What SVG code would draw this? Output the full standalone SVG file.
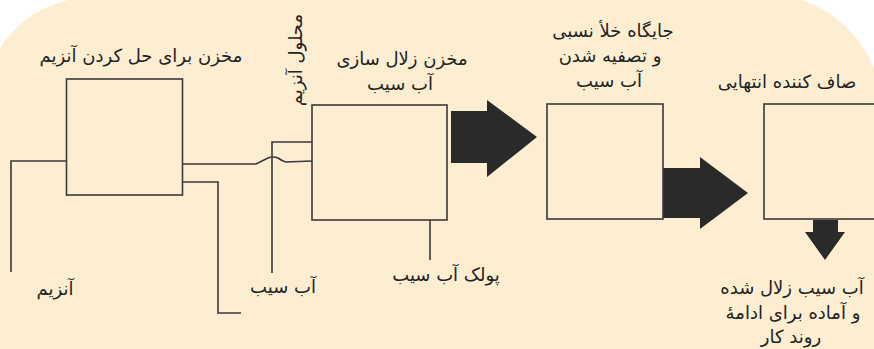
<svg xmlns="http://www.w3.org/2000/svg" width="874" height="349" viewBox="0 0 874 349">
<style>
.box{fill:none;stroke:#3a3a3a;stroke-width:1.6}
.ln{fill:none;stroke:#3a3a3a;stroke-width:1.6}
.arr{fill:#2a2a2a}
text{font-family:"DejaVu Sans","Noto Sans",sans-serif;font-size:18px;fill:#222;text-anchor:middle;direction:rtl}
</style>
<rect width="874" height="349" fill="#ffffff"/>
<path d="M0,48 A110,110 0 0 1 68,0 L802,0 A120,120 0 0 1 874,68 L874,349 L0,349 Z" fill="#fdeed2"/>
<g id="connectors">
<path class="ln" d="M66,161 H11 V272"/>
<path class="ln" d="M182,164 H256 Q264,160 268,158 Q273,156 278,158 Q282,161 286,162 L312,161"/>
<path class="ln" d="M182,182 H218 V313 H241"/>
<path class="ln" d="M312,142 H272 V273"/>
<path class="ln" d="M430,220 V260"/>
<polygon class="arr" id="arrow1" points="451,111 487,111 487,100 537,137 487,177 487,163 451,163"/>
<polygon class="arr" id="arrow2" points="663,168 700,168 700,157 748,193 700,229 700,218 663,218"/>
<polygon class="arr" id="arrow3" points="813,220 838,220 838,232 845,232 825,260 805,232 813,232"/>
</g>
<g id="n1">
<rect class="box" x="66.5" y="79" width="116" height="116"/>
<text x="141" y="62">مخزن برای حل کردن آنزیم</text>
</g>
<g id="n1-label-enzyme"><text x="55" y="295">آنزیم</text></g>
<g id="n-solution"><text transform="translate(302,60) rotate(-90)">محلول آنزیم</text></g>
<g id="n-juice"><text x="283" y="293">آب سیب</text></g>
<g id="n2">
<rect class="box" x="312" y="105" width="135" height="115"/>
<text x="402" y="65">مخزن زلال سازی</text>
<text x="400" y="90">آب سیب</text>
</g>
<g id="n-pulp"><text x="446" y="281">پولک آب سیب</text></g>
<g id="n3">
<rect class="box" x="547" y="104" width="116" height="115"/>
<text x="613" y="37">جایگاه خلأ نسبی</text>
<text x="610" y="62">و تصفیه شدن</text>
<text x="609" y="87">آب سیب</text>
</g>
<g id="n4">
<rect class="box" x="764" y="104" width="112" height="115"/>
<text x="787" y="88">صاف کننده انتهایی</text>
</g>
<g id="n-out">
<text x="792" y="294">آب سیب زلال شده</text>
<text x="793" y="319">و آماده برای ادامهٔ</text>
<text x="791" y="343">روند کار</text>
</g>
</svg>
